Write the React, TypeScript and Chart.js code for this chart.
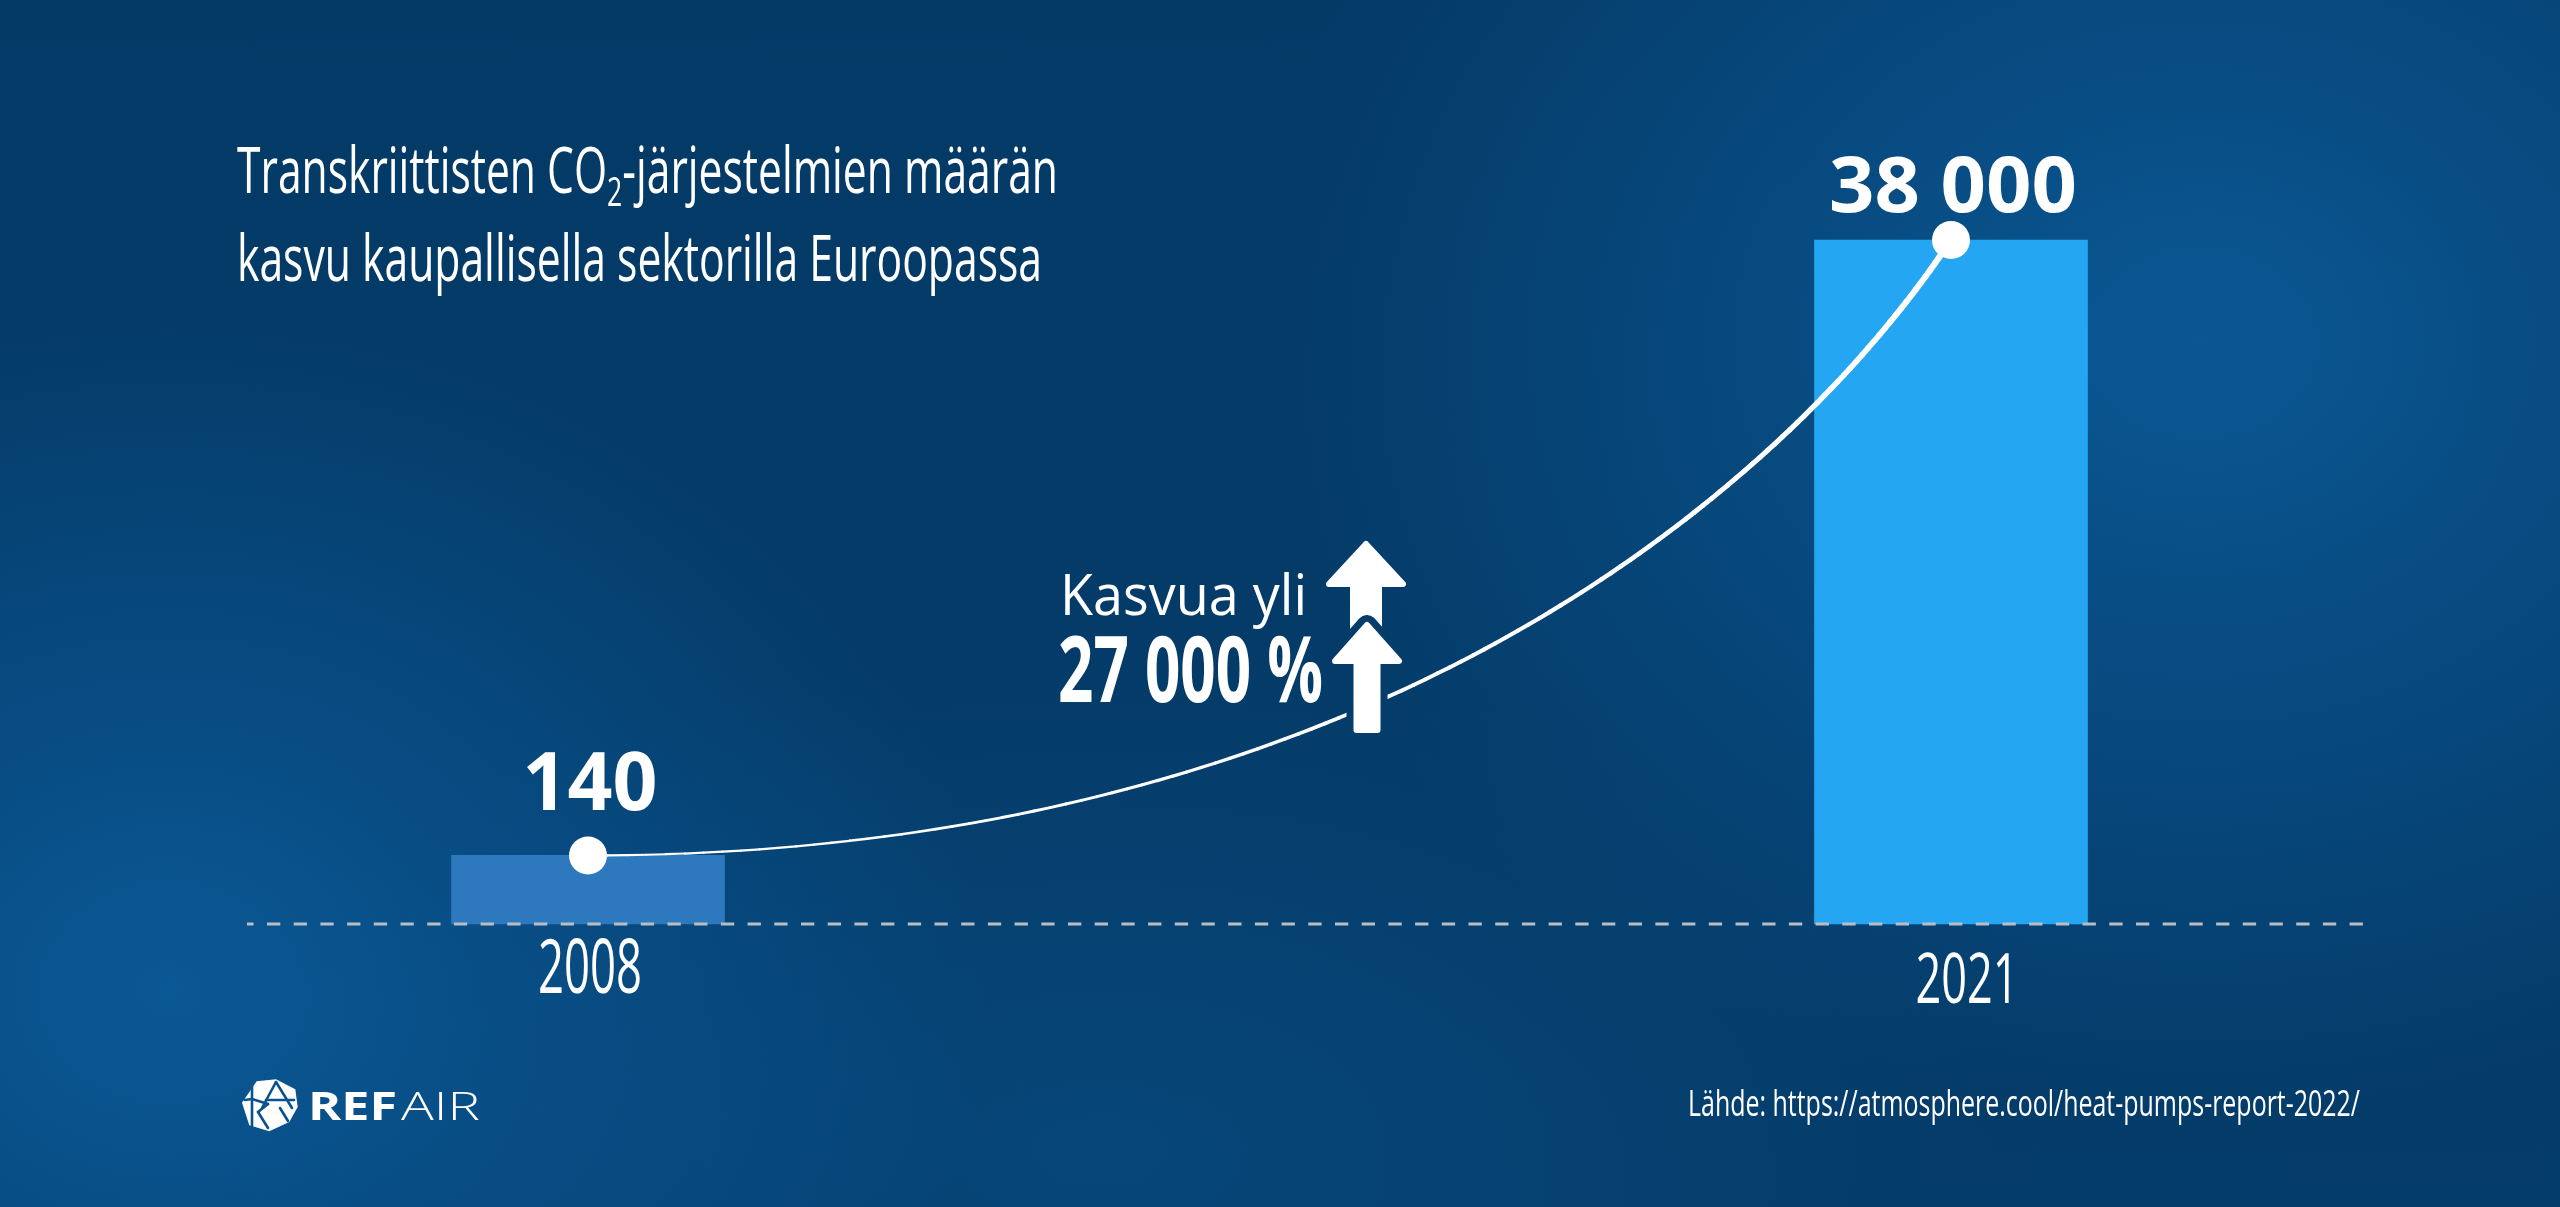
import React, { useEffect, useRef } from 'react';
import { Chart, registerables } from 'chart.js';

Chart.register(...registerables);

// ---------------- data ----------------
const categories = ['2008', '2021'];
const values = [140, 38000];
const barColors = ['#2e78be', '#25a6f2'];
const titleLines = ['Transkriittisten CO₂-järjestelmien määrän', 'kasvu kaupallisella sektorilla Euroopassa'];
const growthLabel = 'Kasvua yli';
const growthValue = '27 000 %';
const sourceText = 'Lähde: https://atmosphere.cool/heat-pumps-report-2022/';
const logoBold = 'REF';
const logoLight = 'AIR';

// ---------------- helpers ----------------
const FONT = '"Open Sans", "Noto Sans", "DejaVu Sans", sans-serif';

type Run = { text: string; font: string; dy?: number };

function drawRuns(
  ctx: CanvasRenderingContext2D,
  runs: Run[],
  x: number,
  y: number,
  width: number,
  align: 'left' | 'center' | 'right' = 'left',
  color = '#ffffff'
) {
  ctx.save();
  ctx.textBaseline = 'alphabetic';
  ctx.textAlign = 'left';
  ctx.fillStyle = color;
  let total = 0;
  const ws = runs.map((r) => {
    ctx.font = r.font;
    const w = ctx.measureText(r.text).width;
    total += w;
    return w;
  });
  const sx = width / total;
  const x0 = align === 'left' ? x : align === 'center' ? x - width / 2 : x - width;
  ctx.translate(x0, y);
  ctx.scale(sx, 1);
  let cx = 0;
  runs.forEach((r, i) => {
    ctx.font = r.font;
    ctx.fillText(r.text, cx, r.dy || 0);
    cx += ws[i];
  });
  ctx.restore();
}

function fmt(v: number) {
  return String(v).replace(/\B(?=(\d{3})+(?!\d))/g, ' ');
}

function arrowPath(
  ctx: CanvasRenderingContext2D,
  cx: number,
  tipY: number,
  headW: number,
  baseY: number,
  shaftW: number,
  bottomY: number
) {
  ctx.beginPath();
  ctx.moveTo(cx, tipY);
  ctx.lineTo(cx + headW / 2, baseY);
  ctx.lineTo(cx + shaftW / 2, baseY);
  ctx.lineTo(cx + shaftW / 2, bottomY);
  ctx.lineTo(cx - shaftW / 2, bottomY);
  ctx.lineTo(cx - shaftW / 2, baseY);
  ctx.lineTo(cx - headW / 2, baseY);
  ctx.closePath();
}

function drawArrow(ctx: CanvasRenderingContext2D, a: number[]) {
  const [cx, tipY, headW, baseY, shaftW, bottomY] = a;
  const r = 3;
  ctx.save();
  ctx.lineJoin = 'round';
  // knock-out gap around the arrow
  ctx.globalCompositeOperation = 'destination-out';
  arrowPath(ctx, cx, tipY + r, headW - 2 * r, baseY - r, shaftW - 2 * r, bottomY - r);
  ctx.lineWidth = 2 * r + 14;
  ctx.strokeStyle = '#000';
  ctx.stroke();
  ctx.fill();
  ctx.globalCompositeOperation = 'source-over';
  arrowPath(ctx, cx, tipY + r, headW - 2 * r, baseY - r, shaftW - 2 * r, bottomY - r);
  ctx.fillStyle = '#ffffff';
  ctx.strokeStyle = '#ffffff';
  ctx.lineWidth = 2 * r;
  ctx.fill();
  ctx.stroke();
  ctx.restore();
}

function drawLogoIcon(ctx: CanvasRenderingContext2D) {
  ctx.save();
  ctx.fillStyle = '#ffffff';
  ctx.beginPath();
  const outer = [
    [256.7, 1081.3],
    [276, 1079.3],
    [295.3, 1089.3],
    [297.7, 1107],
    [289.3, 1122],
    [269.3, 1131.3],
    [249.3, 1125.3],
    [242, 1102.7],
  ];
  outer.forEach(([x, y], i) => (i ? ctx.lineTo(x, y) : ctx.moveTo(x, y)));
  ctx.closePath();
  ctx.fill();
  ctx.globalCompositeOperation = 'destination-out';
  ctx.lineWidth = 2.6;
  ctx.lineCap = 'round';
  const cuts = [
    [[252, 1084], [252, 1127]],
    [[252, 1099], [268, 1104]],
    [[268, 1104], [258, 1112]],
    [[258, 1112], [268, 1128]],
    [[276, 1082], [262, 1108]],
    [[276, 1082], [292, 1108]],
    [[266, 1100], [294, 1100]],
    [[280, 1108], [288, 1121]],
    [[245, 1100], [252, 1099]],
  ];
  cuts.forEach(([a, b]) => {
    ctx.beginPath();
    ctx.moveTo(a[0], a[1]);
    ctx.lineTo(b[0], b[1]);
    ctx.stroke();
  });
  ctx.restore();
}

// ---------------- decoration plugin ----------------
const valueLift = [45, 28];
const valueFontSize = [80, 77];
const valueWidth = [135, 248];
const yearDrop = [69, 79];
const yearShift = [2, 16];
const yearFontSize = [75, 70];
const yearWidth = [104, 103];

const decor = {
  id: 'decor',
  afterDatasetDraw(chart: any, args: any) {
    if (args.meta.type !== 'bar') return;
    const ctx: CanvasRenderingContext2D = chart.ctx;
    const y = chart.scales.y.getPixelForValue(chart.scales.y.min);
    ctx.save();
    ctx.strokeStyle = '#b9bec4';
    ctx.lineWidth = 3;
    ctx.setLineDash([13.3, 13.4]);
    ctx.lineDashOffset = 6.7;
    ctx.beginPath();
    ctx.moveTo(247, y);
    ctx.lineTo(2368, y);
    ctx.stroke();
    ctx.restore();
  },
  beforeDatasetDraw(chart: any, args: any) {
    if (args.meta.type !== 'line') return;
    const ctx: CanvasRenderingContext2D = chart.ctx;
    const pts = args.meta.data;
    const p0 = { x: pts[0].x, y: pts[0].y };
    const p3 = { x: pts[1].x, y: pts[1].y };
    const dx = p3.x - p0.x;
    const dy = p0.y - p3.y;
    const p1 = { x: p0.x + 0.58 * dx, y: p0.y };
    const p2 = { x: p3.x - 0.116 * dx, y: p3.y + 0.387 * dy };
    const bez = (t: number) => {
      const u = 1 - t;
      return {
        x: u * u * u * p0.x + 3 * u * u * t * p1.x + 3 * u * t * t * p2.x + t * t * t * p3.x,
        y: u * u * u * p0.y + 3 * u * u * t * p1.y + 3 * u * t * t * p2.y + t * t * t * p3.y,
      };
    };
    ctx.save();
    ctx.strokeStyle = '#ffffff';
    ctx.lineCap = 'round';
    const N = 120;
    let prev = bez(0);
    for (let i = 1; i <= N; i++) {
      const t = i / N;
      const p = bez(t);
      ctx.lineWidth = 2 + 4.2 * t;
      ctx.beginPath();
      ctx.moveTo(prev.x, prev.y);
      ctx.lineTo(p.x, p.y);
      ctx.stroke();
      prev = p;
    }
    ctx.restore();
  },
  afterDatasetsDraw(chart: any) {
    const ctx: CanvasRenderingContext2D = chart.ctx;
    const barMeta = chart.getDatasetMeta(1);
    const yScale = chart.scales.y;
    const baseY = yScale.getPixelForValue(yScale.min);

    // arrows
    drawArrow(ctx, [1366, 541, 80, 587, 32, 660]);
    drawArrow(ctx, [1367, 622, 70, 664, 27, 733]);

    // value labels and category labels
    barMeta.data.forEach((bar: any, i: number) => {
      drawRuns(
        ctx,
        [{ text: fmt(values[i]), font: `700 ${valueFontSize[i]}px ${FONT}` }],
        bar.x + 2,
        bar.y - valueLift[i],
        valueWidth[i],
        'center'
      );
      drawRuns(
        ctx,
        [{ text: categories[i], font: `400 ${yearFontSize[i]}px ${FONT}` }],
        bar.x + yearShift[i],
        baseY + yearDrop[i],
        yearWidth[i],
        'center'
      );
    });

    // title
    const [a, b] = titleLines[0].split('₂');
    drawRuns(
      ctx,
      [
        { text: a, font: `400 64px ${FONT}` },
        { text: '2', font: `400 40px ${FONT}`, dy: 13 },
        { text: b, font: `400 64px ${FONT}` },
      ],
      237,
      193,
      821
    );
    drawRuns(ctx, [{ text: titleLines[1], font: `400 64px ${FONT}` }], 237, 281, 805);

    // growth annotation
    drawRuns(ctx, [{ text: growthLabel, font: `400 56px ${FONT}` }], 1060, 615, 247);
    drawRuns(ctx, [{ text: growthValue, font: `700 91px ${FONT}` }], 1058, 702, 265);

    // source
    drawRuns(ctx, [{ text: sourceText, font: `400 37px ${FONT}` }], 1688, 1116, 672);

    // logo
    drawLogoIcon(ctx);
    drawRuns(ctx, [{ text: logoBold, font: `700 39px ${FONT}` }], 308, 1120, 89);
    drawRuns(ctx, [{ text: logoLight, font: `300 39px ${FONT}` }], 401, 1120, 79);
  },
};

const BG = [
  'radial-gradient(ellipse 950px 780px at 2200px 340px, rgba(12,95,160,0.78) 0%, rgba(12,95,160,0) 100%)',
  'radial-gradient(ellipse 820px 700px at 170px 990px, rgba(12,95,160,0.8) 0%, rgba(12,95,160,0) 100%)',
  'radial-gradient(ellipse 900px 500px at 1100px 1150px, rgba(12,90,150,0.35) 0%, rgba(12,90,150,0) 100%)',
  'linear-gradient(180deg, #043a66 0%, #043c6a 100%)',
].join(', ');

export default function App() {
  const ref = useRef<HTMLCanvasElement>(null);
  useEffect(() => {
    document.body.style.margin = '0';
    const chart = new Chart(ref.current as HTMLCanvasElement, {
      type: 'bar',
      data: {
        labels: categories,
        datasets: [
          {
            type: 'line',
            label: 'Määrä',
            data: values,
            showLine: false,
            pointRadius: 19,
            pointHoverRadius: 19,
            pointBackgroundColor: '#ffffff',
            pointBorderWidth: 0,
            borderColor: '#ffffff',
            clip: false,
          } as any,
          {
            type: 'bar',
            label: 'Järjestelmät',
            data: values,
            backgroundColor: barColors,
            barThickness: 273,
            borderWidth: 0,
            clip: false,
          } as any,
        ],
      },
      options: {
        responsive: false,
        animation: false,
        devicePixelRatio: 1,
        events: [],
        layout: { padding: { left: 588, right: 609, top: 240, bottom: 283 } },
        plugins: {
          legend: { display: false },
          tooltip: { enabled: false },
          title: { display: false },
        },
        scales: {
          x: { type: 'category', offset: false, display: false, grid: { display: false } },
          y: { type: 'logarithmic', min: 75, max: 38000, bounds: 'data', display: false },
        },
      } as any,
      plugins: [decor as any],
    });
    return () => chart.destroy();
  }, []);
  return (
    <div
      style={{
        position: 'fixed',
        left: 0,
        top: 0,
        width: 2560,
        height: 1207,
        overflow: 'hidden',
        background: BG,
      }}
    >
      <canvas ref={ref} width={2560} height={1207} style={{ display: 'block', width: 2560, height: 1207 }} />
    </div>
  );
}
